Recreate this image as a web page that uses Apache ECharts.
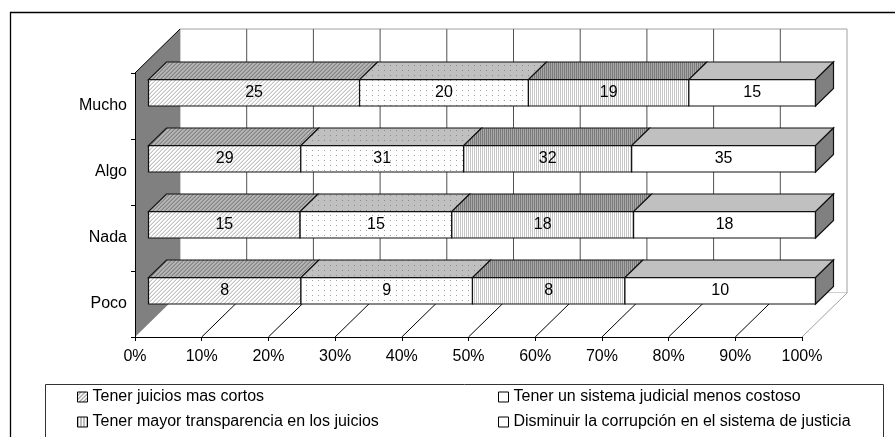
<!DOCTYPE html>
<html>
<head>
<meta charset="utf-8">
<script src="https://cdn.jsdelivr.net/npm/echarts@6/dist/echarts.min.js"></script>
<style>
  html, body { margin: 0; padding: 0; background: #fff; }
  #chart { width: 895px; height: 437px; }
</style>
</head>
<body>
<div id="chart"></div>
<script>
// Response levels (top to bottom) and the four proposals, as counts
const categories = ['Mucho', 'Algo', 'Nada', 'Poco'];
const seriesNames = [
  'Tener juicios mas cortos',
  'Tener un sistema judicial menos costoso',
  'Tener mayor transparencia en los juicios',
  'Disminuir la corrupción en el sistema de justicia'
];
const juiciosCortos = [25, 29, 15, 8];
const menosCostoso = [20, 31, 15, 9];
const transparencia = [19, 32, 18, 8];
const corrupcion = [15, 35, 18, 10];
const seriesValues = [juiciosCortos, menosCostoso, transparencia, corrupcion];
const percentTicks = [0, 10, 20, 30, 40, 50, 60, 70, 80, 90, 100];

// 3D look: depth of the whole plot box, and where each bar sits inside it
const DEPTH_X = 45, DEPTH_Y = 44;
const BAR_FRONT = 0.3, BAR_BACK = 0.7;
const BAR_RATIO = 0.4;
const FONT = '"Liberation Sans", Arial, Helvetica, sans-serif';

function makePattern(w, h, bg, paint) {
  const c = document.createElement('canvas');
  c.width = w; c.height = h;
  const ctx = c.getContext('2d');
  ctx.fillStyle = bg; ctx.fillRect(0, 0, w, h);
  for (let y = 0; y < h; y++) for (let x = 0; x < w; x++) {
    const col = paint(x, y);
    if (col) { ctx.fillStyle = col; ctx.fillRect(x, y, 1, 1); }
  }
  return { image: c, repeat: 'repeat' };
}
const hatch = (dark, mid) => (x, y) => ((x + y) % 4 === 3 ? dark : ((x + y) % 4 === 2 ? mid : null));
const dots = col => (x, y) => (x === 0 && y === 0 ? col : null);
const vlines = col => x => (x === 0 ? col : null);

const faceStyles = [
  { front: makePattern(4, 4, '#ffffff', hatch('#c4c4c4', '#e2e2e2')), top: makePattern(4, 4, '#b4b4b4', hatch('#858585', '#9c9c9c')), side: '#808080' },
  { front: makePattern(6, 5, '#ffffff', dots('#a0a0a0')), top: makePattern(6, 5, '#c0c0c0', dots('#8a8a8a')), side: '#808080' },
  { front: makePattern(2, 1, '#ffffff', vlines('#c6c6c6')), top: makePattern(2, 1, '#a8a8a8', vlines('#7a7a7a')), side: '#808080' },
  { front: '#ffffff', top: '#c0c0c0', side: '#808080' }
];
const legendFills = [
  makePattern(4, 4, '#ffffff', hatch('#8a8a8a', '#c8c8c8')),
  '#ffffff',
  makePattern(3, 1, '#ffffff', x => (x === 0 ? '#7a7a7a' : null)),
  '#ffffff'
];

// Each segment spans [start%, end%] of its row (100% stacked)
const totals = categories.map((_, c) => seriesValues.reduce((s, arr) => s + arr[c], 0));
function segmentData(si) {
  return categories.map((_, c) => {
    let before = 0;
    for (let k = 0; k < si; k++) before += seriesValues[k][c];
    const start = before / totals[c] * 100;
    const end = (before + seriesValues[si][c]) / totals[c] * 100;
    return [start, c, end, seriesValues[si][c]];
  });
}

const EDGE = '#111111';

function renderSegment(si) {
  return function (params, api) {
    const start = api.value(0), cat = api.value(1), end = api.value(2), raw = api.value(3);
    const p0 = api.coord([start, cat]);
    const p1 = api.coord([end, cat]);
    const band = api.size([0, 1])[1];
    const h = band * BAR_RATIO;
    const fx = DEPTH_X * BAR_FRONT, fy = DEPTH_Y * BAR_FRONT;
    const dx = DEPTH_X * (BAR_BACK - BAR_FRONT), dy = DEPTH_Y * (BAR_BACK - BAR_FRONT);
    const x0 = p0[0] + fx, x1 = p1[0] + fx;
    const yT = p0[1] - h / 2 - fy, yB = p0[1] + h / 2 - fy;
    const st = faceStyles[si];
    const children = [
      { type: 'polygon', shape: { points: [[x0, yT], [x1, yT], [x1 + dx, yT - dy], [x0 + dx, yT - dy]] },
        style: { fill: st.top, stroke: EDGE, lineWidth: 1.2 } },
      { type: 'rect', shape: { x: x0, y: yT, width: x1 - x0, height: h },
        style: { fill: st.front, stroke: EDGE, lineWidth: 1.2 } }
    ];
    if (si === seriesValues.length - 1) {
      children.push({ type: 'polygon', shape: { points: [[x1, yT], [x1 + dx, yT - dy], [x1 + dx, yB - dy], [x1, yB]] },
        style: { fill: st.side, stroke: EDGE, lineWidth: 1.2 } });
    }
    children.push({ type: 'text', x: (x0 + x1) / 2, y: (yT + yB) / 2,
      style: { text: String(raw), fill: '#000', font: '16px ' + FONT, align: 'center', verticalAlign: 'middle' } });
    return { type: 'group', children };
  };
}

// Back wall, left wall and floor of the 3D box, laid out from the axes
function renderFrame(params, api) {
  const xL = api.coord([0, 0])[0];
  const xR = api.coord([100, 0])[0];
  const band = api.size([0, 1])[1];
  const yTop = api.coord([0, 0])[1] - band / 2;
  const yBot = api.coord([0, categories.length - 1])[1] + band / 2;
  const ch = [];
  ch.push({ type: 'rect', shape: { x: xL + DEPTH_X, y: yTop - DEPTH_Y, width: xR - xL, height: yBot - yTop },
    style: { fill: '#fff', stroke: '#a0a0a0', lineWidth: 1 } });
  percentTicks.forEach(v => {
    if (v === 0 || v === 100) return;
    const x = api.coord([v, 0])[0] + DEPTH_X;
    ch.push({ type: 'line', shape: { x1: x, y1: yTop - DEPTH_Y, x2: x, y2: yBot - DEPTH_Y },
      style: { stroke: '#505050', lineWidth: 1 } });
  });
  ch.push({ type: 'polygon', shape: { points: [[xL, yBot], [xR, yBot], [xR + DEPTH_X, yBot - DEPTH_Y], [xL + DEPTH_X, yBot - DEPTH_Y]] },
    style: { fill: '#fff' } });
  percentTicks.forEach(v => {
    if (v === 0) return;
    const x = api.coord([v, 0])[0];
    ch.push({ type: 'line', shape: { x1: x, y1: yBot, x2: x + DEPTH_X, y2: yBot - DEPTH_Y },
      style: { stroke: v === 100 ? '#a0a0a0' : '#000', lineWidth: 1 } });
  });
  ch.push({ type: 'polygon', shape: { points: [[xL, yTop], [xL + DEPTH_X, yTop - DEPTH_Y], [xL + DEPTH_X, yBot - DEPTH_Y], [xL, yBot]] },
    style: { fill: '#808080' } });
  ch.push({ type: 'line', shape: { x1: xL, y1: yTop, x2: xL + DEPTH_X, y2: yTop - DEPTH_Y },
    style: { stroke: '#000', lineWidth: 1 } });
  return { type: 'group', children: ch };
}

const legendItem = i => ({
  name: seriesNames[i], icon: 'rect',
  itemStyle: { color: legendFills[i], borderColor: '#000', borderWidth: 1 }
});
const legendCommon = {
  orient: 'vertical', top: 389, itemWidth: 10, itemHeight: 10, itemGap: 9, padding: 0,
  selectedMode: false,
  textStyle: { fontSize: 16, color: '#000', fontFamily: FONT, lineHeight: 16 }
};

const chart = echarts.init(document.getElementById('chart'), null, { renderer: 'canvas' });
chart.setOption({
  animation: false,
  backgroundColor: '#fff',
  grid: { left: 135, top: 73, width: 667, height: 264 },
  xAxis: {
    type: 'value', min: 0, max: 100, interval: 10, z: 10,
    axisLine: { show: true, lineStyle: { color: '#000', width: 1 } },
    axisTick: { show: true, length: 4, lineStyle: { color: '#000' } },
    splitLine: { show: false },
    axisLabel: { formatter: '{value}%', fontSize: 16, color: '#000', fontFamily: FONT, margin: 12 }
  },
  yAxis: {
    type: 'category', data: categories, inverse: true, z: 10,
    axisLine: { show: true, onZero: false, lineStyle: { color: '#000', width: 1 } },
    axisTick: { show: true, length: 4, lineStyle: { color: '#000' } },
    splitLine: { show: false },
    axisLabel: { fontSize: 16, color: '#000', fontFamily: FONT, margin: 8 }
  },
  legend: [
    Object.assign({ left: 77, data: [legendItem(0), legendItem(2)] }, legendCommon),
    Object.assign({ left: 498, data: [legendItem(1), legendItem(3)] }, legendCommon)
  ],
  graphic: [
    { type: 'rect', shape: { x: 10.5, y: 12.5, width: 1000, height: 1000 },
      style: { fill: 'none', stroke: '#000', lineWidth: 1.3 }, silent: true },
    { type: 'rect', shape: { x: 45.5, y: 384.5, width: 838, height: 100 },
      style: { fill: 'none', stroke: '#333', lineWidth: 1 }, silent: true }
  ],
  series: [
    { type: 'custom', name: 'frame', renderItem: renderFrame, data: [[0, 0]], silent: true,
      encode: { x: 0, y: 1 } }
  ].concat(seriesNames.map((name, si) => ({
    type: 'custom', name, renderItem: renderSegment(si), data: segmentData(si),
    encode: { x: [0, 2], y: 1 }, silent: true,
    itemStyle: { color: '#ffffff' }
  })))
});
</script>
</body>
</html>
